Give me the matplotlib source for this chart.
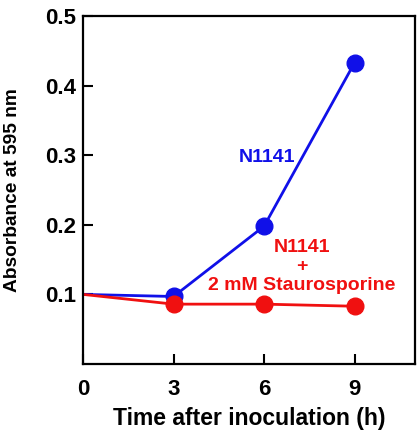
import matplotlib
matplotlib.use("Agg")
import matplotlib.pyplot as plt

time_h = [0, 3, 6, 9]
n1141 = [0.100, 0.097, 0.198, 0.433]
n1141_stauro = [0.100, 0.086, 0.086, 0.083]
xticks = [0, 3, 6, 9]
yticks = [0.1, 0.2, 0.3, 0.4, 0.5]

plt.rcParams['font.family'] = ['Liberation Sans', 'DejaVu Sans']
plt.rcParams['font.weight'] = 'bold'

fig = plt.figure(figsize=(4.19, 4.34), dpi=100)
ax = fig.add_axes([83/419, 1 - 364/434, (415-83)/419, (364-16)/434])

blue = '#1010e8'
red = '#f01010'
ax.plot(time_h[1:], n1141[1:], 'o', color=blue, markersize=12, zorder=3)
ax.plot(time_h, n1141, '-', color=blue, linewidth=2, zorder=2)
ax.plot(time_h[1:], n1141_stauro[1:], 'o', color=red, markersize=12, zorder=4)
ax.plot(time_h, n1141_stauro, '-', color=red, linewidth=2, zorder=2)

ax.set_xlim(0, 11)
ax.set_ylim(0, 0.5)
ax.set_xticks(xticks)
ax.set_yticks(yticks)
ax.set_xticklabels([str(v) for v in xticks], fontsize=16, fontweight='bold')
ax.set_yticklabels([f"{v:.1f}" for v in yticks], fontsize=16, fontweight='bold')
ax.tick_params(direction='in', length=7, width=1.5)
ax.tick_params(axis='x', pad=11)
ax.tick_params(axis='y', pad=5)
for s in ax.spines.values():
    s.set_linewidth(1.6)

ax.set_xlabel("Time after inoculation (h)", fontsize=16.5, fontweight='bold', labelpad=5)
ax.set_ylabel("Absorbance at 595 nm", fontsize=13.8, fontweight='bold', labelpad=17)

ax.text(6.1, 0.296, "N1141", color=blue, fontsize=14, fontweight='bold', ha='center', va='center')
ax.text(7.26, 0.140, "N1141\n+\n2 mM Staurosporine", color=red, fontsize=14,
        fontweight='bold', ha='center', va='center', linespacing=1.12)

fig.savefig("out.png", dpi=100)
